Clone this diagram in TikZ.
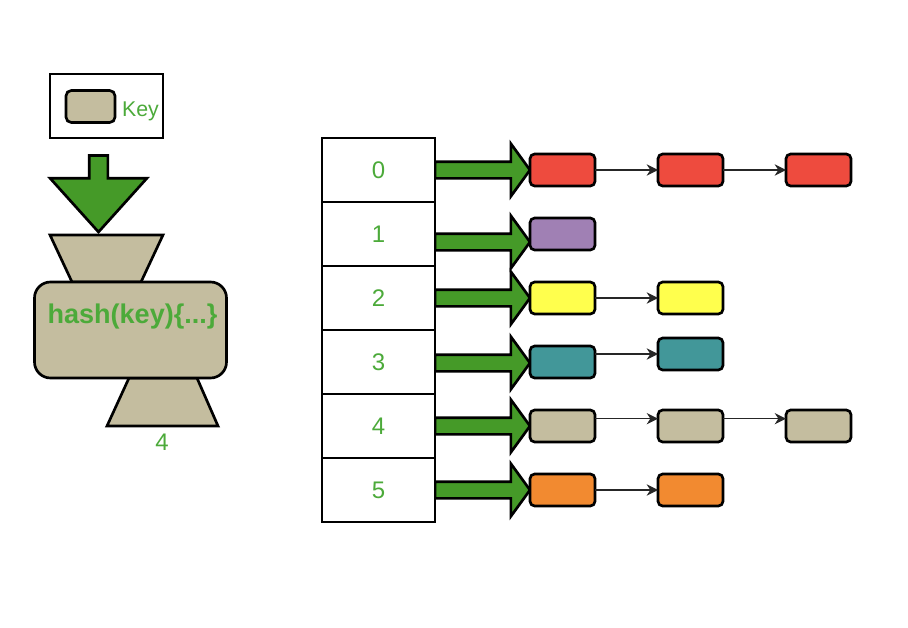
\documentclass[tikz,border=0pt]{standalone}
\usepackage{fontspec}
\setmainfont{Liberation Sans}
\usepackage{xcolor}
\usetikzlibrary{arrows.meta, shapes.arrows}
\definecolor{arrowGreen}{HTML}{459A28}
\definecolor{textGreen}{HTML}{4CAA3A}
\definecolor{boxTan}{HTML}{C4BD9F}
\definecolor{boxRed}{HTML}{EE4B3E}
\definecolor{boxPurple}{HTML}{A080B4}
\definecolor{boxYellow}{HTML}{FFFF4D}
\definecolor{boxTeal}{HTML}{429799}
\definecolor{boxOrange}{HTML}{F28A30}

\begin{document}
\begin{tikzpicture}[x=0.75pt, y=-0.75pt,
    outline/.style={draw=black, line width=2pt},
    cell/.style={outline, fill=white, minimum width=84.75pt, minimum height=48pt,
        inner sep=0pt, outer sep=0pt, text=textGreen, font=\fontsize{18}{18}\selectfont},
    bucket/.style={outline, rounded corners=3.5pt, minimum width=48.75pt, minimum height=24pt,
        inner sep=0pt, outer sep=0pt},
    blockarrow/.style={outline, fill=arrowGreen, single arrow, inner sep=5.25pt, outer sep=0pt,
        minimum width=37.5pt, minimum height=71.25pt, single arrow head extend=13.5pt,
        single arrow tip angle=108, anchor=tail},
    link/.style={-{Stealth[length=8.5pt, width=8.5pt]}, line width=0.9pt, black!85},
    label/.style={text=textGreen, inner sep=0pt, anchor=base}]
    \useasboundingbox (0,0) rectangle (908,628);

    \node[outline, minimum width=84.75pt, minimum height=48pt, inner sep=0pt, outer sep=0pt] (keyframe) at (106.5,106) {};
    \node[bucket, fill=boxTan, minimum width=36.75pt, rounded corners=4pt] (keybox) at (90.5,106.5) {};
    \node[label, font=\fontsize{16}{16}\selectfont] (keytext) at (140.5,116) {Key};

    \draw[outline, fill=boxTan] (50,235) -- (163,235) -- (141,282) -- (72,282) -- cycle;
    \draw[outline, fill=boxTan] (129,378) -- (197,378) -- (218,426) -- (107,426) -- cycle;
    \node[outline, fill=arrowGreen, single arrow, shape border rotate=270, inner sep=6pt, outer sep=0pt,
        minimum width=70.5pt, minimum height=57.4pt, single arrow head extend=29.25pt,
        single arrow tip angle=84, anchor=tip] (keyarrow) at (98.5,232) {};
    \node[outline, fill=boxTan, rounded corners=12pt, minimum width=144pt, minimum height=72pt,
        inner sep=0pt, outer sep=0pt] (hashbox) at (130.5,330) {};
    \node[label, font=\bfseries\fontsize{20.3}{20.3}\selectfont] (hashtext) at (132.5,323) {hash(key)\{...\}};
    \node[label, font=\fontsize{18}{18}\selectfont] (hashout) at (162,450) {4};

    \foreach \i/\shift in {0/0,1/8,2/0,3/1,4/0,5/0}
        \node[blockarrow] (arrow\i) at (435,{170+64*\i+\shift}) {};

    \foreach \i in {0,...,5}
        \node[cell] (cell\i) at (378.5,{170+64*\i}) {\i};

    \foreach \name/\x/\y/\clr in {red1/562.5/170/boxRed, red2/690.5/170/boxRed, red3/818.5/170/boxRed,
        purple1/562.5/234/boxPurple,
        yellow1/562.5/298/boxYellow, yellow2/690.5/298/boxYellow,
        teal1/562.5/362/boxTeal, teal2/690.5/354/boxTeal,
        tan1/562.5/426/boxTan, tan2/690.5/426/boxTan, tan3/818.5/426/boxTan,
        orange1/562.5/490/boxOrange, orange2/690.5/490/boxOrange}
        \node[bucket, fill=\clr] (\name) at (\x,\y) {};

    \draw[link] (red1) -- (red2);
    \draw[link] (red2) -- (red3);
    \draw[link] (yellow1) -- (yellow2);
    \draw[link] (teal1.east |- teal2.west) -- (teal2.west);
    \draw[link] ([yshift=5.5pt]tan1.east) -- ([yshift=5.5pt]tan2.west);
    \draw[link] ([yshift=5.5pt]tan2.east) -- ([yshift=5.5pt]tan3.west);
    \draw[link] (orange1) -- (orange2);
\end{tikzpicture}
\end{document}
